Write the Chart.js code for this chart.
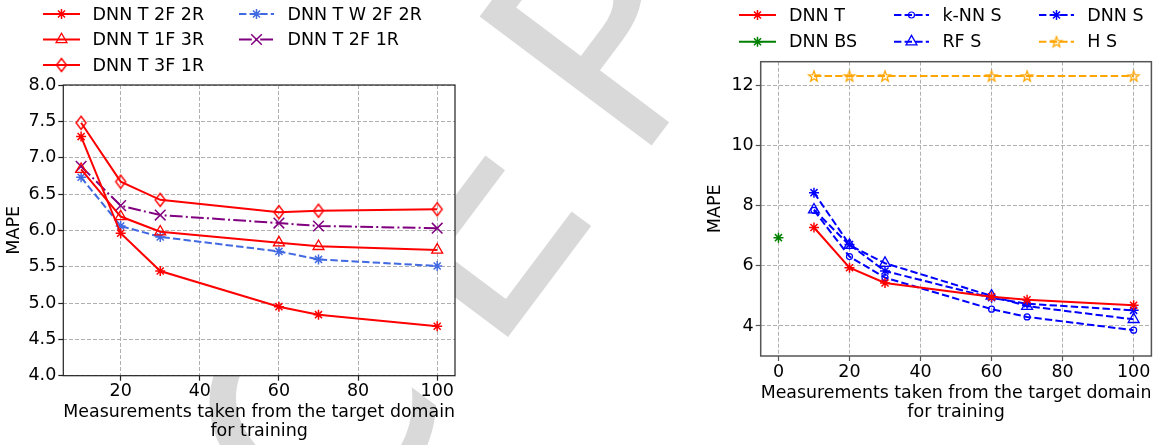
<!DOCTYPE html>
<html><head><meta charset="utf-8">
<script src="https://cdn.jsdelivr.net/npm/chart.js@4.4.0/dist/chart.umd.min.js"></script>
<style>
html,body{margin:0;padding:0;background:#fff;width:1159px;height:445px;overflow:hidden;}
#wm{position:absolute;left:0;top:0;z-index:0;}
#cl{position:absolute;left:0;top:0;z-index:1;}
#cr{position:absolute;left:580px;top:0;z-index:1;}
</style></head><body>
<canvas id="wm" width="1159" height="445"></canvas>
<canvas id="cl" width="580" height="445"></canvas>
<canvas id="cr" width="579" height="445"></canvas>
<script>
// ---------- data: left chart ----------
const xLeft = [10, 20, 30, 60, 70, 100];
const dnnT2F2R  = [7.29, 5.96, 5.44, 4.95, 4.84, 4.68];
const dnnT1F3R  = [6.84, 6.19, 5.98, 5.83, 5.78, 5.73];
const dnnT3F1R  = [7.48, 6.67, 6.42, 6.25, 6.27, 6.29];
const dnnTW2F2R = [6.73, 6.06, 5.91, 5.71, 5.60, 5.51];
const dnnT2F1R  = [6.88, 6.34, 6.21, 6.10, 6.06, 6.03];
const xTicksLeft = [20, 40, 60, 80, 100];
const yTicksLeft = [4.0, 4.5, 5.0, 5.5, 6.0, 6.5, 7.0, 7.5, 8.0];
const labelsLeft = ['DNN T 2F 2R', 'DNN T 1F 3R', 'DNN T 3F 1R', 'DNN T W 2F 2R', 'DNN T 2F 1R'];

// ---------- data: right chart ----------
const xRight = [10, 20, 30, 60, 70, 100];
const xBase = [0];
const dnnT  = [7.28, 5.94, 5.43, 4.97, 4.87, 4.69];
const dnnBS = [6.94];
const knnS  = [7.85, 6.31, 5.61, 4.56, 4.30, 3.86];
const rfS   = [7.87, 6.69, 6.09, 5.00, 4.66, 4.22];
const dnnS  = [8.44, 6.71, 5.83, 4.94, 4.74, 4.52];
const hS    = [12.32, 12.32, 12.32, 12.32, 12.32, 12.32];
const xTicksRight = [0, 20, 40, 60, 80, 100];
const yTicksRight = [4, 6, 8, 10, 12];
const labelsRight = ['DNN T', 'DNN BS', 'k-NN S', 'RF S', 'DNN S', 'H S'];

const xTitle = ['Measurements taken from the target domain', 'for training'];
const yTitle = 'MAPE';
const watermarkText = 'ACCEPTED MANUSCRIPT';

// ---------- watermark (page background, behind the axes) ----------
(function drawWatermark() {
  const g = document.getElementById('wm').getContext('2d');
  const F = 295, L = 53, ang = -53.13 * Math.PI / 180, idx = 3;
  g.font = F + 'px "DejaVu Sans"'; g.fillStyle = '#d9d9d9'; g.textBaseline = 'alphabetic';
  g.save(); g.translate(508, 337); g.rotate(ang);
  let start = -0.098 * F;
  for (let i = idx - 1; i >= 0; i--) start -= g.measureText(watermarkText[i]).width + L;
  let cx = start;
  for (const ch of watermarkText) { g.fillText(ch, cx, 0); cx += g.measureText(ch).width + L; }
  g.restore();
})();

// ---------- helpers ----------
const FS = 17.5;
Chart.defaults.font.family = '"DejaVu Sans", sans-serif';
Chart.defaults.font.size = FS;
Chart.defaults.color = '#000';

const pts = (xs, ys) => xs.map((x, i) => ({x: x, y: ys[i]}));

function thinDiamond(color) {
  const c = document.createElement('canvas'); c.width = 14; c.height = 18;
  const g = c.getContext('2d'); g.strokeStyle = color; g.lineWidth = 1.4;
  g.beginPath(); g.moveTo(7, 2.5); g.lineTo(12, 9); g.lineTo(7, 15.5); g.lineTo(2, 9); g.closePath(); g.stroke();
  return c;
}
function openStar(color) {
  const c = document.createElement('canvas'); c.width = 16; c.height = 16;
  const g = c.getContext('2d'); g.strokeStyle = color; g.lineWidth = 1.3; g.lineJoin = 'miter';
  g.beginPath();
  for (let i = 0; i < 10; i++) {
    const a = -Math.PI / 2 + i * Math.PI / 5, r = (i % 2) ? 2.3 : 5.6;
    const px = 8 + r * Math.cos(a), py = 8.5 + r * Math.sin(a);
    if (i === 0) g.moveTo(px, py); else g.lineTo(px, py);
  }
  g.closePath(); g.stroke();
  return c;
}

const DASH = [7.4, 3.2];
const DASHDOT = [12.8, 3.2, 2, 3.2];
const NOFILL = 'rgba(0,0,0,0)';

function ds(label, data, color, style, r, opt) {
  return Object.assign({
    label: label, data: data, borderColor: color, borderWidth: 2, borderDash: [],
    pointStyle: style, pointRadius: r, pointHoverRadius: r, pointBorderColor: color,
    pointBackgroundColor: color, pointBorderWidth: 1.5, fill: false, tension: 0
  }, opt || {});
}

const legendPlugin = {
  id: 'mplLegend',
  afterDraw(chart, args, opts) {
    const ctx = chart.ctx;
    (opts.items || []).forEach(it => {
      const d = chart.data.datasets[it.index];
      ctx.save();
      ctx.strokeStyle = d.borderColor; ctx.lineWidth = d.borderWidth;
      ctx.setLineDash(d.borderDash || []);
      ctx.beginPath(); ctx.moveTo(it.x0, it.y); ctx.lineTo(it.x1, it.y); ctx.stroke();
      ctx.setLineDash([]);
      ctx.strokeStyle = d.pointBorderColor; ctx.fillStyle = d.pointBackgroundColor;
      ctx.lineWidth = d.pointBorderWidth;
      Chart.helpers.drawPoint(ctx, {pointStyle: d.pointStyle, radius: d.pointRadius, rotation: 0, borderWidth: d.pointBorderWidth}, (it.x0 + it.x1) / 2, it.y);
      ctx.fillStyle = '#000'; ctx.font = FS + 'px "DejaVu Sans"';
      ctx.textBaseline = 'middle'; ctx.textAlign = 'left';
      ctx.fillText(d.label, it.tx, it.y + 1.2);
      ctx.restore();
    });
  }
};
const framePlugin = {
  id: 'frame',
  beforeDraw(chart) {
    const a = chart.chartArea, ctx = chart.ctx;
    ctx.save(); ctx.fillStyle = '#ffffff';
    ctx.fillRect(a.left, a.top, a.right - a.left, a.bottom - a.top);
    ctx.restore();
  },
  afterDatasetsDraw(chart, args, opts) {
    const a = chart.chartArea, ctx = chart.ctx;
    ctx.save(); ctx.strokeStyle = opts.color; ctx.lineWidth = opts.width;
    ctx.strokeRect(a.left, a.top, a.right - a.left, a.bottom - a.top);
    ctx.restore();
  }
};

function gridOpts(tickColor) {
  return {color: '#b0b0b0', lineWidth: 1, borderDash: [4, 2], drawTicks: true, tickLength: 5,
          tickColor: tickColor, tickWidth: 1.2, tickBorderDash: []};
}
function xScale(min, max, ticks, height, titlePad, tickPad, tickColor) {
  return {
    type: 'linear', min: min, max: max,
    afterBuildTicks: s => { s.ticks = ticks.map(v => ({value: v})); },
    afterFit: s => { s.height = height; },
    grid: gridOpts(tickColor), border: {display: false, dash: [4, 2]},
    ticks: {padding: tickPad, maxRotation: 0, autoSkip: false, callback: v => String(v), font: {size: FS}},
    title: {display: true, text: xTitle, font: {size: FS, lineHeight: 1.126}, padding: {top: 0, bottom: titlePad}}
  };
}
function yScale(min, max, ticks, width, titlePad, fmt, tickColor) {
  return {
    type: 'linear', min: min, max: max,
    afterBuildTicks: s => { s.ticks = ticks.map(v => ({value: v})); },
    afterFit: s => { s.width = width; },
    grid: gridOpts(tickColor), border: {display: false, dash: [4, 2]},
    ticks: {padding: 2, autoSkip: false, callback: v => fmt(v), font: {size: FS}},
    title: {display: true, text: yTitle, font: {size: FS, lineHeight: 1.126}, padding: {top: titlePad, bottom: 0}}
  };
}

// ---------- left chart ----------
new Chart(document.getElementById('cl'), {
  type: 'line',
  data: {datasets: [
    ds(labelsLeft[0], pts(xLeft, dnnT2F2R), '#ff0000', 'star', 5),
    ds(labelsLeft[1], pts(xLeft, dnnT1F3R), '#ff0000', 'triangle', 6.3, {pointBackgroundColor: NOFILL, pointBorderWidth: 1.3}),
    ds(labelsLeft[2], pts(xLeft, dnnT3F1R), '#ff0000', thinDiamond('#ff0000'), 7, {pointBackgroundColor: NOFILL}),
    ds(labelsLeft[3], pts(xLeft, dnnTW2F2R), '#4169e1', 'star', 5, {borderDash: DASH}),
    ds(labelsLeft[4], pts(xLeft, dnnT2F1R), '#800080', 'crossRot', 7.5, {borderDash: DASHDOT})
  ]},
  options: {
    responsive: false, animation: false, devicePixelRatio: 1,
    layout: {padding: {left: 0, right: 125, top: 85, bottom: 0}},
    plugins: {
      legend: {display: false}, tooltip: {enabled: false},
      frame: {color: '#222', width: 1.2},
      mplLegend: {items: [
        {index: 0, x0: 43, x1: 80, tx: 92.6, y: 14},
        {index: 1, x0: 43, x1: 80, tx: 92.6, y: 39.5},
        {index: 2, x0: 43, x1: 80, tx: 92.6, y: 65},
        {index: 3, x0: 239, x1: 274, tx: 287.4, y: 14},
        {index: 4, x0: 239, x1: 274, tx: 287.4, y: 39.5}
      ]}
    },
    scales: {
      x: xScale(5.5, 104.5, xTicksLeft, 69.3, 3.2, 0.5, '#222'),
      y: yScale(4, 8, yTicksLeft, 63.3, 5.1, v => v.toFixed(1), '#222')
    }
  },
  plugins: [legendPlugin, framePlugin]
});

// ---------- right chart ----------
new Chart(document.getElementById('cr'), {
  type: 'line',
  data: {datasets: [
    ds(labelsRight[0], pts(xRight, dnnT), '#ff0000', 'star', 5),
    ds(labelsRight[1], pts(xBase, dnnBS), '#008000', 'star', 5),
    ds(labelsRight[2], pts(xRight, knnS), '#0000ff', 'circle', 3, {borderDash: DASH, pointBackgroundColor: NOFILL, pointBorderWidth: 1.2}),
    ds(labelsRight[3], pts(xRight, rfS), '#0000ff', 'triangle', 6.3, {borderDash: DASH, pointBackgroundColor: NOFILL, pointBorderWidth: 1.3}),
    ds(labelsRight[4], pts(xRight, dnnS), '#0000ff', 'star', 5, {borderDash: DASH}),
    ds(labelsRight[5], pts(xRight, hS), '#ffa500', openStar('#ffa500'), 6, {borderDash: DASH, pointBackgroundColor: NOFILL})
  ]},
  options: {
    responsive: false, animation: false, devicePixelRatio: 1,
    layout: {padding: {left: 0, right: 3.3, top: 61.7, bottom: 0}},
    plugins: {
      legend: {display: false}, tooltip: {enabled: false},
      frame: {color: '#555', width: 1.5},
      mplLegend: {items: [
        {index: 0, x0: 159, x1: 196, tx: 209, y: 15},
        {index: 1, x0: 159, x1: 196, tx: 209, y: 41.7},
        {index: 2, x0: 314, x1: 349, tx: 362.4, y: 15},
        {index: 3, x0: 314, x1: 349, tx: 362.4, y: 41.7},
        {index: 4, x0: 459, x1: 494, tx: 507.3, y: 15},
        {index: 5, x0: 459, x1: 494, tx: 507.3, y: 41.7}
      ]}
    },
    scales: {
      x: xScale(-5, 105, xTicksRight, 89, 22.4, 1.4, '#555'),
      y: yScale(3.0, 12.8, yTicksRight, 180.7, 126.1, v => String(v), '#555')
    }
  },
  plugins: [legendPlugin, framePlugin]
});
</script>
</body></html>
